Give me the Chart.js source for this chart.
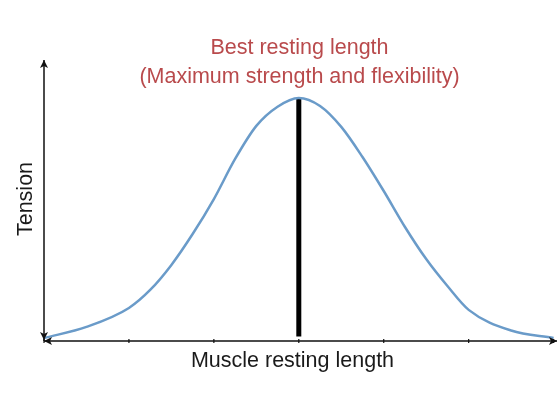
<!DOCTYPE html>
<html>
<head>
<meta charset="utf-8">
<script src="https://cdn.jsdelivr.net/npm/chart.js@4"></script>
<style>
  html, body { margin: 0; padding: 0; background: #fff; }
  #wrap { width: 559px; height: 397px; }
</style>
</head>
<body>
<div id="wrap"><canvas id="myChart"></canvas></div>
<script>
// muscle length (tick units) and tension (peak = 100)
let lengths = [0, 0.5, 1, 1.25, 1.5, 1.75, 2, 2.25, 2.5, 2.75, 3,
               3.25, 3.5, 3.75, 4, 4.25, 4.5, 4.75, 5, 5.5, 6];
let tension = [1.2, 5.8, 13.6, 21, 31.3, 44, 58.4, 74.9, 88.5, 96.4, 100,
               96.7, 88.1, 75.7, 61.7, 46.9, 33.7, 22.6, 12.8, 4.3, 1.2];
let bestLength = [3, 3];
let bestTension = [1.8, 100];
let xTicks = [0, 1, 2, 3, 4, 5, 6];
let titleLines = ['Best resting length', '(Maximum strength and flexibility)'];
let xLabel = 'Muscle resting length';
let yLabel = 'Tension';

function arrow(ctx, x, y, dx, dy) {
    // small filled arrow head pointing along (dx, dy)
    let px = -dy, py = dx;
    ctx.beginPath();
    ctx.moveTo(x, y);
    ctx.lineTo(x - dx * 8 + px * 4, y - dy * 8 + py * 4);
    ctx.lineTo(x - dx * 6, y - dy * 6);
    ctx.lineTo(x - dx * 8 - px * 4, y - dy * 8 - py * 4);
    ctx.closePath();
    ctx.fill();
}

const axesPlugin = {
    id: 'axesPlugin',
    afterDatasetsDraw(chart) {
        const ctx = chart.ctx;
        const xs = chart.scales.x, ys = chart.scales.y;
        const x0 = xs.getPixelForValue(0);
        const y0 = ys.getPixelForValue(0);
        const yTop = ys.getPixelForValue(ys.max);
        const xEnd = xs.getPixelForValue(xs.max);
        ctx.save();
        ctx.strokeStyle = '#111';
        ctx.fillStyle = '#111';
        ctx.lineWidth = 1.5;
        ctx.beginPath();
        ctx.moveTo(x0, y0);
        ctx.lineTo(x0, yTop);
        ctx.moveTo(x0, y0);
        ctx.lineTo(xEnd, y0);
        ctx.stroke();
        arrow(ctx, x0, yTop, 0, -1);
        arrow(ctx, x0, y0 - 1, 0, 1);
        arrow(ctx, x0, y0, -1, 0);
        arrow(ctx, xEnd, y0, 1, 0);
        ctx.lineWidth = 1.2;
        ctx.beginPath();
        xTicks.forEach(t => {
            const px = xs.getPixelForValue(t);
            ctx.moveTo(px, y0 - 2);
            ctx.lineTo(px, y0 + 2);
        });
        ctx.stroke();

        ctx.font = '21.5px "Liberation Sans", Arial, sans-serif';
        ctx.textAlign = 'center';
        ctx.textBaseline = 'middle';
        ctx.fillStyle = '#b94a4c';
        ctx.fillText(titleLines[0], 299.5, 48);
        ctx.fillText(titleLines[1], 299.5, 77);
        ctx.fillStyle = '#1a1a1a';
        ctx.fillText(xLabel, 292.5, 361);
        ctx.translate(26, 199);
        ctx.rotate(-Math.PI / 2);
        ctx.fillText(yLabel, 0, 0);
        ctx.restore();
    }
};

const ctx = document.getElementById('myChart');

new Chart(ctx, {
    type: 'line',
    data: {
        datasets: [{
            data: lengths.map((l, i) => ({ x: l, y: tension[i] })),
            borderColor: '#6a9bc9',
            borderWidth: 2.5,
            pointRadius: 0,
            cubicInterpolationMode: 'monotone'
        }, {
            data: bestLength.map((l, i) => ({ x: l, y: bestTension[i] })),
            borderColor: '#000',
            borderWidth: 5,
            pointRadius: 0
        }]
    },
    options: {
        responsive: true,
        maintainAspectRatio: false,
        animation: false,
        layout: { padding: { left: 44, right: 2, top: 60, bottom: 56 } },
        plugins: { legend: { display: false }, tooltip: { enabled: false } },
        scales: {
            x: { type: 'linear', min: 0, max: 6.04, display: false },
            y: { min: 0, max: 115.6, display: false }
        }
    },
    plugins: [axesPlugin]
});
</script>
</body>
</html>
